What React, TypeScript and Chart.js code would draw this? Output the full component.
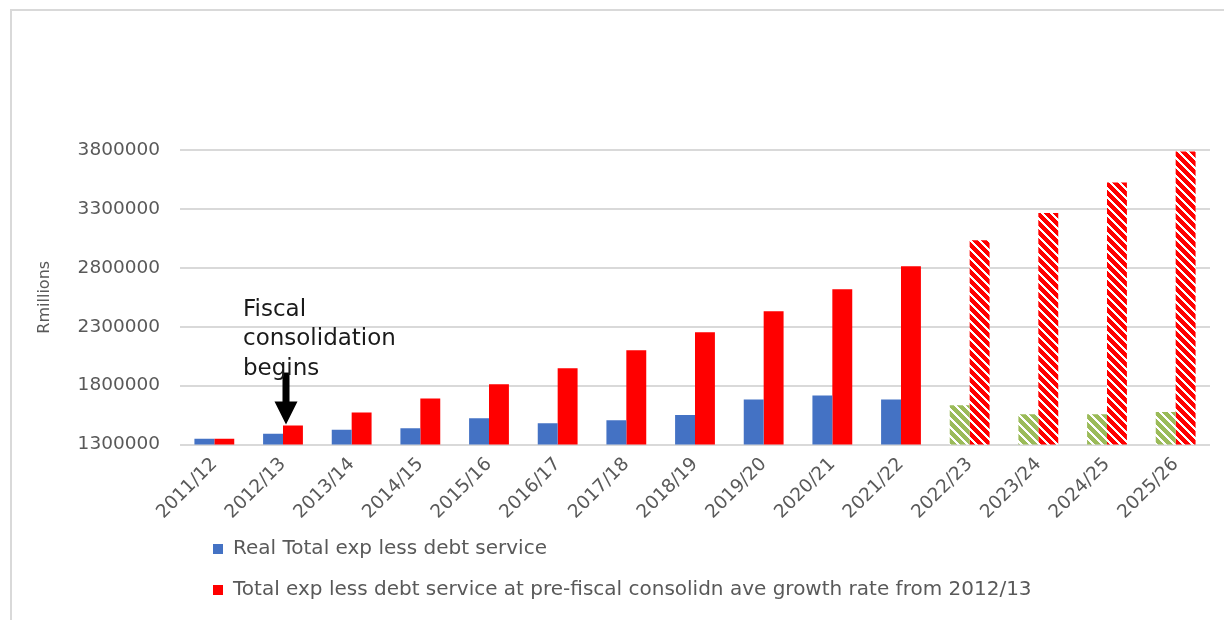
import React, { useEffect, useRef } from "react";
import { Chart, registerables } from "chart.js";

Chart.register(...registerables);

const categories = [
  "2011/12", "2012/13", "2013/14", "2014/15", "2015/16", "2016/17", "2017/18", "2018/19",
  "2019/20", "2020/21", "2021/22", "2022/23", "2023/24", "2024/25", "2025/26",
];
const realSeries = [
  1348000, 1391000, 1425000, 1438000, 1523000, 1481000, 1506000, 1551000,
  1681000, 1715000, 1681000, 1633000, 1557000, 1557000, 1576000,
];
const projectedSeries = [
  1348000, 1461000, 1571000, 1690000, 1812000, 1948000, 2100000, 2253000,
  2432000, 2618000, 2814000, 3034000, 3266000, 3524000, 3787000,
];
const seriesNames = [
  "Real Total exp less debt service",
  "Total exp less debt service at pre-fiscal consolidn ave growth rate from 2012/13",
];
const forecastFrom = "2022/23";
const yMin = 1300000;
const yMax = 3800000;
const yStep = 500000;
const yTitle = "Rmillions";
const noteCategory = "2012/13";
const noteLines = ["Fiscal", "consolidation", "begins"];

const FONT = "'DejaVu Sans', 'Open Sans', sans-serif";
const GREY = "#595959";

function makeHatch(ctx: CanvasRenderingContext2D, color: string): CanvasPattern {
  const n = 9;
  const c = document.createElement("canvas");
  c.width = n;
  c.height = n;
  const g = c.getContext("2d")!;
  g.fillStyle = color;
  g.fillRect(0, 0, n, n);
  g.fillStyle = "#ffffff";
  for (let y = 0; y < n; y++) {
    for (let x = 0; x < n; x++) {
      const d = (((x - y) % n) + n) % n;
      if (d < 3) g.fillRect(x, y, 1, 1);
    }
  }
  return ctx.createPattern(c, "repeat")!;
}

const framePlugin = {
  id: "frame",
  beforeDraw(chart: any) {
    const ctx = chart.ctx;
    ctx.save();
    ctx.fillStyle = "#d9d9d9";
    ctx.fillRect(10, 9, chart.width - 10, 2);
    ctx.fillRect(10, 9, 2, chart.height - 9);
    ctx.restore();
  },
};

const legendShiftPlugin = {
  id: "legendShift",
  afterLayout(chart: any) {
    const lg = chart.legend;
    if (lg) {
      lg.left += 12;
      lg.right += 12;
      lg.top -= 10;
      lg.bottom -= 10;
    }
  },
};

const notePlugin = {
  id: "note",
  afterDatasetsDraw(chart: any) {
    const idx = categories.indexOf(noteCategory);
    const xs = chart.scales.x;
    const ys = chart.scales.y;
    const cx = xs.getPixelForValue(idx) + 3;
    const tipY = ys.getPixelForValue(projectedSeries[idx]) - 1;
    const ctx = chart.ctx as CanvasRenderingContext2D;
    ctx.save();
    ctx.fillStyle = "#000000";
    const shaftW = 7;
    const headW = 23;
    const headH = 23;
    const len = 52;
    ctx.fillRect(cx - shaftW / 2, tipY - len, shaftW, len - headH + 1);
    ctx.beginPath();
    ctx.moveTo(cx - headW / 2, tipY - headH);
    ctx.lineTo(cx + headW / 2, tipY - headH);
    ctx.lineTo(cx, tipY);
    ctx.closePath();
    ctx.fill();
    ctx.font = `23px ${FONT}`;
    ctx.fillStyle = "#1a1a1a";
    ctx.textAlign = "left";
    ctx.textBaseline = "alphabetic";
    noteLines.forEach((line, i) => {
      ctx.fillText(line, cx - 43, tipY - 109 + i * 29.5);
    });
    ctx.restore();
  },
};

export default function App() {
  const ref = useRef<HTMLCanvasElement>(null);
  useEffect(() => {
    const canvas = ref.current!;
    const ctx = canvas.getContext("2d")!;
    const redHatch = makeHatch(ctx, "#FF0000");
    const greenHatch = makeHatch(ctx, "#9BBB59");
    const fIdx = categories.indexOf(forecastFrom);

    const chart = new Chart(canvas, {
      type: "bar",
      data: {
        labels: categories,
        datasets: [
          {
            label: seriesNames[0],
            data: realSeries,
            backgroundColor: (c: any) =>
              c.dataIndex !== undefined && c.dataIndex >= fIdx ? greenHatch : "#4472C4",
            categoryPercentage: 0.58,
            barPercentage: 1.0,
            borderWidth: 0,
          },
          {
            label: seriesNames[1],
            data: projectedSeries,
            backgroundColor: (c: any) =>
              c.dataIndex !== undefined && c.dataIndex >= fIdx ? redHatch : "#FF0000",
            categoryPercentage: 0.58,
            barPercentage: 1.0,
            borderWidth: 0,
          },
        ],
      },
      options: {
        responsive: false,
        animation: false,
        maintainAspectRatio: false,
        layout: { padding: { left: 0, right: 14, top: 150, bottom: 0 } },
        font: { family: FONT },
        plugins: {
          tooltip: { enabled: false },
          legend: {
            position: "bottom",
            align: "start",
            fullSize: false,
            labels: {
              boxWidth: 10,
              boxHeight: 10,
              padding: 21,
              color: GREY,
              font: { family: FONT, size: 20 },
            },
          },
        },
        scales: {
          x: {
            grid: { display: false },
            border: { display: false },
            ticks: {
              color: GREY,
              font: { family: FONT, size: 18.5 },
              minRotation: 45,
              maxRotation: 45,
              autoSkip: false,
              padding: 1,
            },
            afterFit: (s: any) => {
              s.height = 83.5;
            },
          },
          y: {
            min: yMin,
            max: yMax,
            grid: { color: "#d9d9d9", lineWidth: 2, drawTicks: false },
            border: { display: false },
            ticks: {
              stepSize: yStep,
              color: GREY,
              padding: 20,
              font: { family: FONT, size: 18.5 },
              callback: (v: any) => String(v),
            },
            title: {
              display: true,
              text: yTitle,
              color: GREY,
              font: { family: FONT, size: 16 },
              padding: { top: 35, bottom: 0 },
            },
            afterFit: (s: any) => {
              s.width = 180;
            },
          },
        },
      },
      plugins: [framePlugin, legendShiftPlugin, notePlugin],
    } as any);
    return () => chart.destroy();
  }, []);

  return (
    <div style={{ position: "absolute", left: 0, top: 0, width: 1224, height: 620, background: "#ffffff" }}>
      <canvas ref={ref} width={1224} height={620} style={{ display: "block", width: 1224, height: 620 }} />
    </div>
  );
}
